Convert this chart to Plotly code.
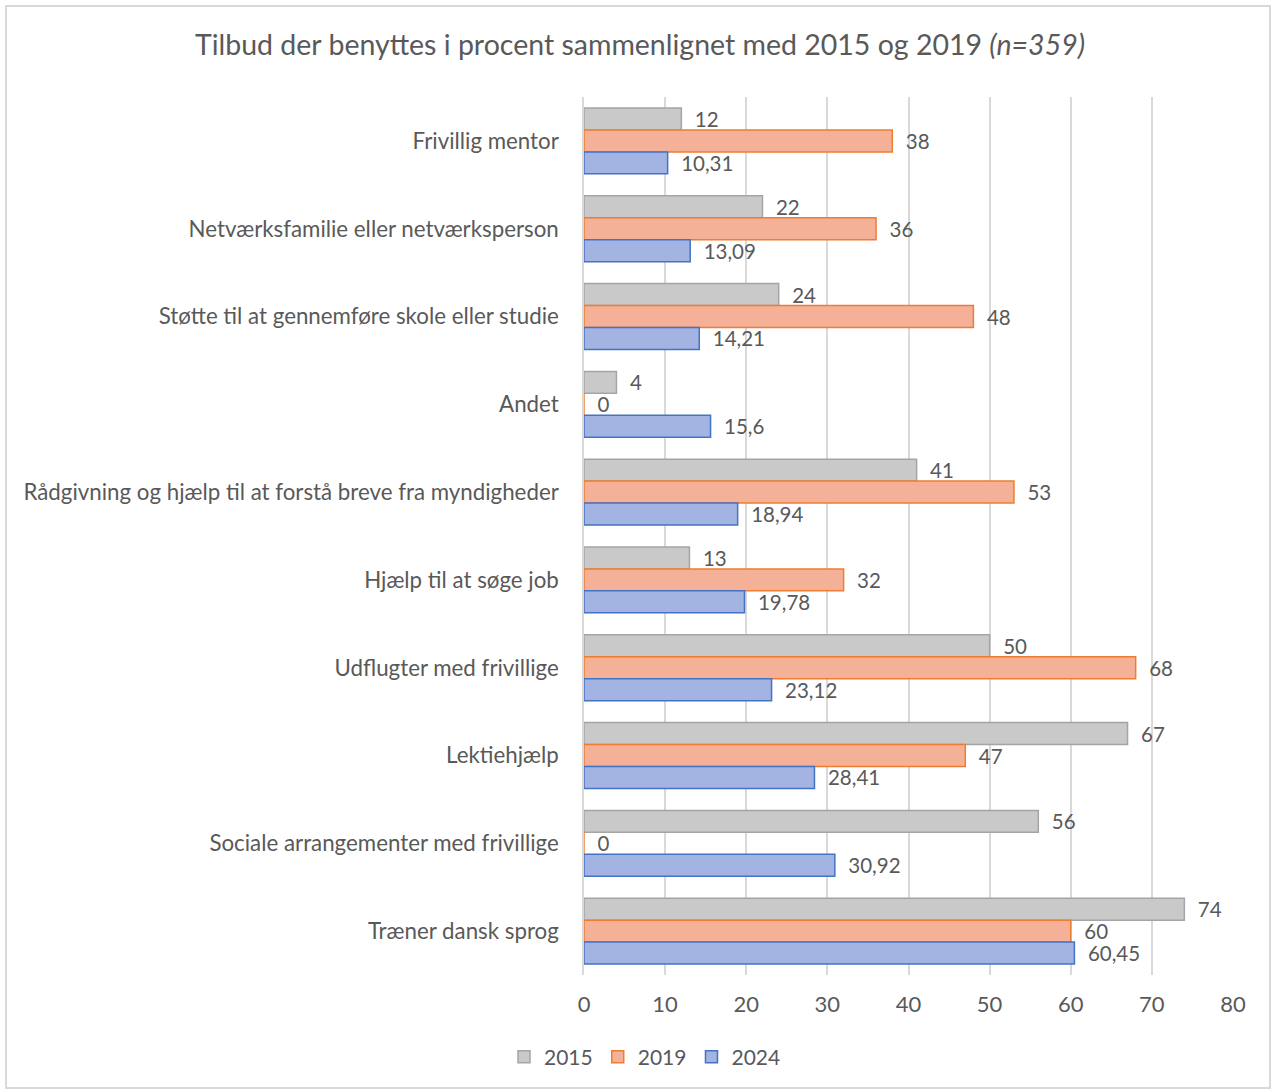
import plotly.graph_objects as go

categories = [
    "Frivillig mentor",
    "Netværksfamilie eller netværksperson",
    "Støtte til at gennemføre skole eller studie",
    "Andet",
    "Rådgivning og hjælp til at forstå breve fra myndigheder",
    "Hjælp til at søge job",
    "Udflugter med frivillige",
    "Lektiehjælp",
    "Sociale arrangementer med frivillige",
    "Træner dansk sprog",
]
v2015 = [12, 22, 24, 4, 41, 13, 50, 67, 56, 74]
v2019 = [38, 36, 48, 0, 53, 32, 68, 47, 0, 60]
v2024 = [10.31, 13.09, 14.21, 15.6, 18.94, 19.78, 23.12, 28.41, 30.92, 60.45]
series_names = ["2015", "2019", "2024"]
x_ticks = [0, 10, 20, 30, 40, 50, 60, 70, 80]

fills = ["#c9c9c9", "#f5b197", "#a3b4e2"]
lines = ["#a5a5a5", "#ed7d31", "#4472c4"]
FONT = "Lato, 'Open Sans', sans-serif"
GREY = "#595959"
PAD = "\u00a0\u00a0"


def fmt(v):
    s = ("%g" % v)
    return PAD + s.replace(".", ",")


fig = go.Figure()
for name, vals, fc, lc in zip(series_names, [v2015, v2019, v2024], fills, lines):
    fig.add_trace(go.Bar(
        y=categories, x=vals, name=name, orientation="h",
        marker=dict(color=fc, line=dict(color=lc, width=1.5)),
        text=[fmt(v) for v in vals], textposition="outside",
        constraintext="none",
        textfont=dict(size=20.5, color=GREY, family=FONT),
        cliponaxis=False,
    ))

W, H = 1273, 1091
L, R, T, B = 584, 40, 97, 116
pw = W - L - R
ph = H - T - B


def px_x(p):
    return (p - L) / pw


def px_y(p):
    return 1 - (p - T) / ph


fig.update_layout(
    width=W, height=H,
    margin=dict(l=L, r=R, t=T, b=B),
    paper_bgcolor="white", plot_bgcolor="white",
    barmode="group", bargap=0.25, bargroupgap=0,
    font=dict(family=FONT, color=GREY, size=22),
    title=dict(
        text="Tilbud der benyttes i procent sammenlignet med 2015 og 2019 <i>(n=359)</i>",
        x=640 / W, xref="container", xanchor="center",
        y=1 - 45 / H, yref="container", yanchor="middle",
        font=dict(size=28.5, color=GREY, family=FONT),
    ),
    xaxis=dict(
        range=[0, 80], tickvals=x_ticks, showgrid=True,
        gridcolor="#d9d9d9", gridwidth=1.5, zeroline=False,
        showline=False, tickfont=dict(size=22, color=GREY),
        ticks="", ticklabelstandoff=14,
    ),
    yaxis=dict(
        autorange="reversed", showgrid=False, zeroline=False,
        showline=True, linecolor="#d9d9d9", linewidth=1.5,
        ticks="", tickfont=dict(size=22.3, color=GREY),
        ticklabelstandoff=19,
    ),
    legend=dict(
        orientation="h", x=px_x(645), xanchor="center",
        y=px_y(1057), yanchor="middle",
        font=dict(size=21, color=GREY), traceorder="normal",
        itemwidth=30,
    ),
    shapes=[dict(
        type="rect", xref="paper", yref="paper",
        x0=px_x(6), x1=px_x(1270), y0=px_y(6), y1=px_y(1088),
        line=dict(color="#d9d9d9", width=2), layer="below",
    )],
)

fig.write_html(
    "out.html",
    config={"displayModeBar": False},
    post_script="document.body.style.margin='0';document.body.style.overflow='hidden';",
)
